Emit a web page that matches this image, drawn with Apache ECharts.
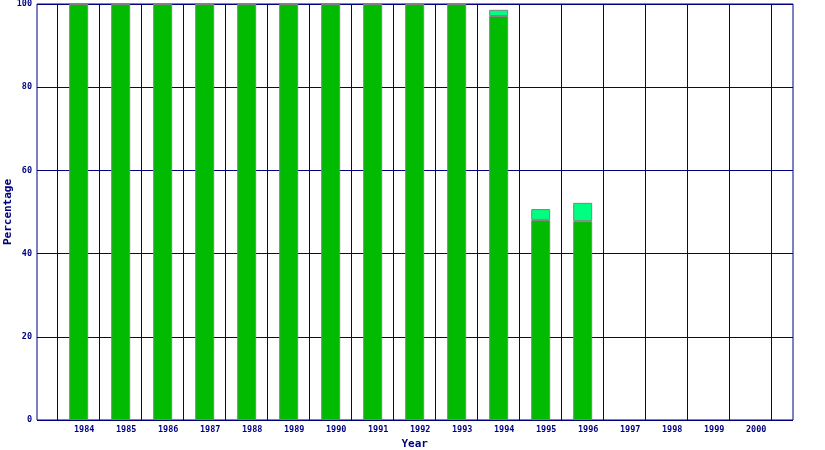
<!DOCTYPE html>
<html>
<head>
<meta charset="utf-8">
<script src="https://cdn.jsdelivr.net/npm/echarts@6/dist/echarts.min.js"></script>
<style>html,body{margin:0;padding:0;background:#fff}#c{width:825px;height:450px}</style>
</head>
<body>
<div id="c"></div>
<script>
var years = ['1984','1985','1986','1987','1988','1989','1990','1991','1992','1993','1994','1995','1996','1997','1998','1999','2000'];
var mainShare = [100,100,100,100,100,100,100,100,100,100,97.1,48.1,47.8,null,null,null,null];
var otherShare = [0,0,0,0,0,0,0,0,0,0,1.5,2.6,4.4,null,null,null,null];
var yTicks = [0,20,40,60,80,100];

var navy = '#000080';
var fontFam = '"DejaVu Sans Mono", monospace';
var chart = echarts.init(document.getElementById('c'), null, {renderer:'canvas'});
chart.setOption({
  animation:false,
  backgroundColor:'#fff',
  grid:[
    {left:37, right:32, top:4, bottom:30, show:true, borderColor:navy, borderWidth:1, backgroundColor:'transparent', containLabel:false, outerBoundsMode:'none'},
    {left:57.7, right:53.3, top:4, bottom:30, containLabel:false, outerBoundsMode:'none'}
  ],
  xAxis:[
    {gridIndex:0, type:'value', min:0, max:1, show:false},
    {gridIndex:1, type:'category', data:years, boundaryGap:true,
     axisLine:{show:false}, axisTick:{show:false},
     splitLine:{show:true, interval:0, lineStyle:{color:navy, width:1}},
     axisLabel:{interval:0, color:navy, fontFamily:fontFam, fontWeight:'bold', fontSize:8.5, margin:5, padding:[0,0,0,11]},
     name:'Year', nameLocation:'middle', nameGap:18.5, nameMoveOverlap:false,
     nameTextStyle:{color:navy, fontFamily:fontFam, fontWeight:'bold', fontSize:11}}
  ],
  yAxis:[
    {gridIndex:0, type:'value', min:yTicks[0], max:yTicks[yTicks.length-1], interval:20,
     axisLine:{show:false}, axisTick:{show:false},
     splitLine:{show:true, lineStyle:{color:navy, width:1}},
     axisLabel:{color:navy, fontFamily:fontFam, fontWeight:'bold', fontSize:8.5, margin:5},
     name:'Percentage', nameLocation:'middle', nameGap:23, nameRotate:90, nameMoveOverlap:false,
     nameTextStyle:{color:navy, fontFamily:fontFam, fontWeight:'bold', fontSize:11}},
    {gridIndex:1, type:'value', min:0, max:100, show:false}
  ],
  series:[
    {type:'bar', xAxisIndex:1, yAxisIndex:1, stack:'s', data:mainShare, barWidth:19,
     itemStyle:{color:'#00BB00', borderColor:'#808080', borderWidth:1}},
    {type:'bar', xAxisIndex:1, yAxisIndex:1, stack:'s', data:otherShare, barWidth:19,
     itemStyle:{color:'#00FF80', borderColor:'#808080', borderWidth:1}}
  ]
});
</script>
</body>
</html>
